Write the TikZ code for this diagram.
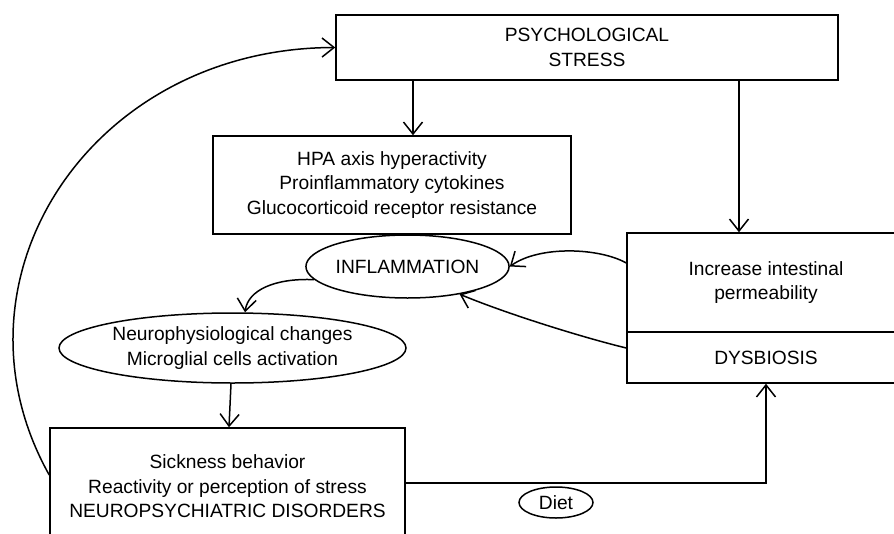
\documentclass[tikz,border=0pt]{standalone}
\usepackage{fontspec}
\setmainfont{Liberation Sans}
\usetikzlibrary{arrows.meta,shapes.geometric}
\begin{document}
\begin{tikzpicture}[x=1pt,y=-1pt,
  every node/.style={font=\fontsize{19.2}{24.5}\selectfont, align=center, inner sep=0pt},
  boxnode/.style={draw, line width=1.5pt, rectangle},
  ellnode/.style={draw, line width=1.5pt, ellipse},
  arr/.style={line width=1.5pt, -{Straight Barb[length=12pt,width=19pt,line width=1.5pt]}}]
\useasboundingbox (0,0) rectangle (894,533);
\node[boxnode, minimum width=502pt, minimum height=65pt] (psych) at (587,47.5) {PSYCHOLOGICAL\\STRESS};
\node[boxnode, minimum width=358pt, minimum height=98pt] (hpa) at (392,185) {HPA axis hyperactivity\\Proinflammatory cytokines\\Glucocorticoid receptor resistance};
\node[boxnode, minimum width=278pt, minimum height=99pt] (perm) at (766,282.5) {Increase intestinal\\permeability};
\node[boxnode, minimum width=278pt, minimum height=51pt] (dys) at (766,357.5) {DYSBIOSIS};
\node[boxnode, minimum width=355pt, minimum height=117pt] (sick) at (227.5,486.5) {Sickness behavior\\Reactivity or perception of stress\\NEUROPSYCHIATRIC DISORDERS};
\node[ellnode, minimum width=195pt, minimum height=63pt] (infl) at (407.5,266.5) {INFLAMMATION};
\node[ellnode, minimum width=347pt, minimum height=70pt] (neuro) at (232.5,348) {Neurophysiological changes\\Microglial cells activation};
\node[ellnode, minimum width=74pt, minimum height=31pt] (diet) at (556,502.5) {Diet};
% arrows
\draw[arr] ([xshift=21pt]hpa.north |- psych.south) -- ([xshift=21pt]hpa.north);
\draw[arr] ([xshift=-27pt]perm.north |- psych.south) -- ([xshift=-27pt]perm.north);
\draw[arr] ([yshift=19.5pt]perm.west) .. controls (600,248) and (540,245) .. (infl.east);
\draw[arr] ([yshift=9.5pt]dys.west) .. controls (585,338) and (510,315) .. (infl.-28);
\draw[arr] (infl.188) .. controls (275,278) and (248,290) .. ([xshift=12.5pt]neuro.north);
\draw[arr] ([xshift=-1.5pt]neuro.south) -- ([xshift=1.5pt]sick.north);
\draw[arr] ([yshift=3.5pt]sick.east) -| (dys.south);
\draw[arr] ([yshift=11.5pt]sick.west) .. controls (-60,280) and (90,48) .. (psych.west);
\end{tikzpicture}
\end{document}
